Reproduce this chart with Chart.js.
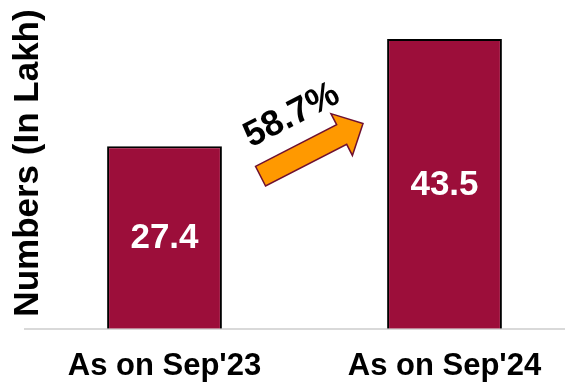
<!DOCTYPE html>
<html>
<head>
<meta charset="utf-8">
<script src="https://cdn.jsdelivr.net/npm/chart.js@4.4.1/dist/chart.umd.min.js"></script>
<style>
  html, body { margin: 0; padding: 0; background: #fff; overflow: hidden; }
  #wrap { width: 565px; height: 386px; overflow: hidden; }
  #box { width: 600px; height: 386px; }
</style>
</head>
<body>
<div id="wrap"><div id="box"><canvas id="barChart"></canvas></div></div>
<script>
// Datos: beneficiarios (en lakh) y crecimiento
const periodos = ["As on Sep'23", "As on Sep'24"];
const valores = [27.4, 43.5];
const crecimiento = '58.7%';
const tituloEjeY = 'Numbers (In Lakh)';

const FUENTE = '"Liberation Sans", Arial, sans-serif';

// Flecha de crecimiento entre barras (en unidades de índice / valor)
const flechaDesde = [0.343, 22.9];
const flechaHasta = [0.709, 30.8];
const etiquetaPct = [0.455, 32];

// Título del eje Y dibujado a mano (se superpone al área)
const tituloY = {
  id: 'tituloY',
  afterDraw(chart) {
    const ctx = chart.ctx;
    ctx.save();
    ctx.translate(28, 163);
    ctx.rotate(-Math.PI / 2);
    ctx.font = 'bold 35px ' + FUENTE;
    ctx.fillStyle = '#000';
    ctx.textAlign = 'center';
    ctx.textBaseline = 'middle';
    ctx.fillText(tituloEjeY, 0, 0);
    ctx.restore();
  }
};

// Valores dentro de cada barra
const valoresEnBarra = {
  id: 'valoresEnBarra',
  afterDatasetsDraw(chart) {
    const ctx = chart.ctx;
    const meta = chart.getDatasetMeta(0);
    ctx.save();
    ctx.font = 'bold 35px ' + FUENTE;
    ctx.fillStyle = '#fff';
    ctx.textAlign = 'center';
    ctx.textBaseline = 'middle';
    meta.data.forEach((bar, i) => {
      ctx.fillText(valores[i].toFixed(1), bar.x, (bar.y + bar.base) / 2 + 1);
    });
    ctx.restore();
  }
};

// Flecha naranja con el porcentaje
const flecha = {
  id: 'flecha',
  afterDatasetsDraw(chart) {
    const ctx = chart.ctx;
    const x = chart.scales.x, y = chart.scales.y;
    const x0 = x.getPixelForValue(0), paso = x.getPixelForValue(1) - x0;
    const px = p => [x0 + p[0] * paso, y.getPixelForValue(p[1])];
    const [ax, ay] = px(flechaDesde);
    const [bx, by] = px(flechaHasta);
    const ang = Math.atan2(by - ay, bx - ax);
    const largo = Math.hypot(bx - ax, by - ay);
    const media = 11, cabeza = 23.5, largoCabeza = 24;

    ctx.save();
    ctx.translate(ax, ay);
    ctx.rotate(ang);
    ctx.beginPath();
    ctx.moveTo(0, -media);
    ctx.lineTo(largo - largoCabeza, -media);
    ctx.lineTo(largo - largoCabeza, -cabeza);
    ctx.lineTo(largo, 0);
    ctx.lineTo(largo - largoCabeza, cabeza);
    ctx.lineTo(largo - largoCabeza, media);
    ctx.lineTo(0, media);
    ctx.closePath();
    ctx.fillStyle = '#ff9900';
    ctx.fill();
    ctx.lineWidth = 1.5;
    ctx.strokeStyle = '#6e1030';
    ctx.stroke();
    ctx.restore();

    const [tx, ty] = px(etiquetaPct);
    ctx.save();
    ctx.translate(tx, ty);
    ctx.rotate(ang);
    ctx.font = 'bold 36px ' + FUENTE;
    ctx.fillStyle = '#000';
    ctx.textAlign = 'center';
    ctx.textBaseline = 'middle';
    ctx.fillText(crecimiento, 0, 0);
    ctx.restore();
  }
};

const ctx = document.getElementById('barChart').getContext('2d');
const barChart = new Chart(ctx, {
  type: 'bar',
  data: {
    labels: periodos,
    datasets: [{
      data: valores,
      backgroundColor: '#9c0e3a',
      borderColor: '#000',
      borderWidth: { top: 2, left: 2, right: 2, bottom: 0 },
      barPercentage: 0.41,
      categoryPercentage: 1
    }]
  },
  options: {
    responsive: true,
    maintainAspectRatio: false,
    animation: false,
    layout: { padding: { left: 24.5, right: 15.5, top: 9, bottom: -18 } },
    plugins: {
      legend: { display: false },
      tooltip: { enabled: false }
    },
    scales: {
      x: {
        grid: { display: false, drawTicks: false },
        border: { display: true, color: '#d9d9d9', width: 2 },
        ticks: {
          padding: 19,
          color: '#000',
          font: { family: FUENTE, size: 31, weight: 'bold' }
        }
      },
      y: {
        display: false,
        min: 0,
        max: 48
      }
    }
  },
  plugins: [valoresEnBarra, flecha, tituloY]
});
</script>
</body>
</html>
